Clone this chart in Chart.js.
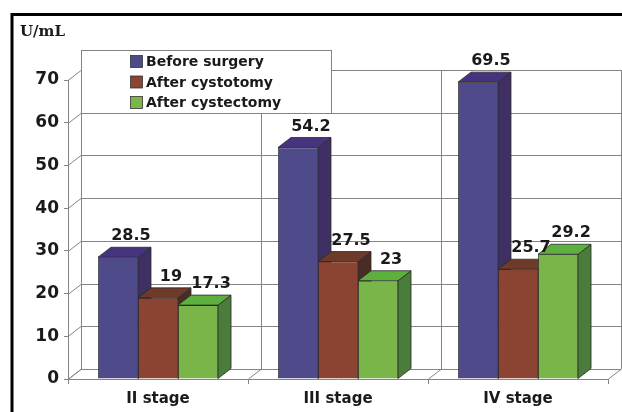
<!DOCTYPE html>
<html>
<head>
<meta charset="utf-8">
<script src="https://cdn.jsdelivr.net/npm/chart.js@4.4.0/dist/chart.umd.min.js"></script>
<style>
  html, body { margin: 0; padding: 0; background: #fff; }
</style>
</head>
<body>
<canvas id="stage" width="622" height="412"></canvas>
<script>
// data
const stages = ['II stage', 'III stage', 'IV stage'];
const beforeSurgery = [28.5, 54.2, 69.5];
const afterCystotomy = [19, 27.5, 25.7];
const afterCystectomy = [17.3, 23, 29.2];
const seriesNames = ['Before surgery', 'After cystotomy', 'After cystectomy'];
const yMin = 0, yMax = 70, yStep = 10;
const unitLabel = 'U/mL';

// 3d depth of the box
const DX = 13, DY = -10;
const faces = [
  { front: '#4f4a8a', side: '#3e3062', top: '#46347e' },
  { front: '#8b4431', side: '#4a2c24', top: '#6e3a2a' },
  { front: '#79b548', side: '#4c7c3c', top: '#5daf3e' }
];
const gridColor = '#848484';
const textColor = '#1a1a1a';

function line(ctx, x1, y1, x2, y2) {
  ctx.beginPath();
  ctx.moveTo(x1, y1);
  ctx.lineTo(x2, y2);
  ctx.stroke();
}

function poly(ctx, pts, fill) {
  ctx.beginPath();
  ctx.moveTo(pts[0][0], pts[0][1]);
  for (let i = 1; i < pts.length; i++) ctx.lineTo(pts[i][0], pts[i][1]);
  ctx.closePath();
  ctx.fillStyle = fill;
  ctx.fill();
  ctx.stroke();
}

const box3d = {
  id: 'box3d',
  beforeDraw(chart) {
    const ctx = chart.ctx;
    ctx.save();
    // outer frame
    ctx.strokeStyle = '#000';
    ctx.lineWidth = 3;
    ctx.beginPath();
    ctx.moveTo(12, 412);
    ctx.lineTo(12, 14.5);
    ctx.lineTo(622, 14.5);
    ctx.stroke();
    // unit
    ctx.fillStyle = textColor;
    ctx.font = 'bold 15px "DejaVu Serif"';
    ctx.textBaseline = 'middle';
    ctx.textAlign = 'left';
    ctx.fillText(unitLabel, 20, 32);
    ctx.restore();
  },
  beforeDatasetsDraw(chart) {
    const ctx = chart.ctx;
    const { left, right } = chart.chartArea;
    const ys = chart.scales.y, xs = chart.scales.x;
    const y0 = ys.getPixelForValue(yMin), yTop = ys.getPixelForValue(yMax);
    const cw = (right - left) / stages.length;
    ctx.save();
    ctx.strokeStyle = gridColor;
    ctx.lineWidth = 1;
    // side wall diagonals + back wall gridlines
    for (let v = yMin; v <= yMax; v += yStep) {
      const py = Math.round(ys.getPixelForValue(v)) + 0.5;
      line(ctx, left, py, left + DX, py + DY);
      line(ctx, left + DX, py + DY, right + DX, py + DY);
    }
    // back wall verticals + floor diagonals
    for (let i = 0; i <= stages.length; i++) {
      const bx = Math.round(xs.getPixelForValue(0) - cw / 2 + i * cw) + 0.5;
      line(ctx, bx + DX, y0 + DY, bx + DX, yTop + DY);
      line(ctx, bx, y0, bx + DX, y0 + DY);
    }
    // sides and tops of bars, left to right
    const bars = [];
    chart.data.datasets.forEach((ds, di) => {
      chart.getDatasetMeta(di).data.forEach(el => bars.push({ el, di }));
    });
    bars.sort((a, b) => a.el.x - b.el.x);
    ctx.strokeStyle = '#2a2a2a';
    ctx.lineWidth = 0.8;
    bars.forEach(({ el, di }) => {
      const w = el.width, l = el.x - w / 2, r = el.x + w / 2, t = el.y, b = el.base;
      poly(ctx, [[r, t], [r + DX, t + DY], [r + DX, b + DY], [r, b]], faces[di].side);
      poly(ctx, [[l, t], [l + DX, t + DY], [r + DX, t + DY], [r, t]], faces[di].top);
    });
    ctx.restore();
  },
  afterDatasetsDraw(chart) {
    const ctx = chart.ctx;
    ctx.save();
    // value labels
    ctx.fillStyle = textColor;
    ctx.font = 'bold 16px "DejaVu Sans"';
    ctx.textAlign = 'center';
    ctx.textBaseline = 'middle';
    chart.data.datasets.forEach((ds, di) => {
      chart.getDatasetMeta(di).data.forEach((el, i) => {
        ctx.fillText(String(ds.data[i]), el.x + 13, el.y - 21);
      });
    });
    // legend box
    ctx.fillStyle = '#fff';
    ctx.strokeStyle = gridColor;
    ctx.lineWidth = 1;
    ctx.fillRect(81.5, 50.5, 250, 63);
    ctx.strokeRect(81.5, 50.5, 250, 63);
    ctx.font = 'bold 14px "DejaVu Sans"';
    ctx.textAlign = 'left';
    chart.data.datasets.forEach((ds, di) => {
      const cy = 61.5 + di * 20.5;
      ctx.fillStyle = ds.backgroundColor;
      ctx.strokeStyle = '#333';
      ctx.lineWidth = 0.8;
      ctx.fillRect(130.5, cy - 6, 12, 12);
      ctx.strokeRect(130.5, cy - 6, 12, 12);
      ctx.fillStyle = textColor;
      ctx.fillText(ds.label, 146, cy + 1);
    });
    ctx.restore();
  }
};

const mydata = {
  labels: stages,
  datasets: [beforeSurgery, afterCystotomy, afterCystectomy].map((d, i) => ({
    label: seriesNames[i],
    data: d,
    backgroundColor: faces[i].front,
    borderColor: '#2a2a2a',
    borderWidth: 0.8,
    categoryPercentage: 0.667,
    barPercentage: 1
  }))
};

new Chart(document.getElementById('stage'), {
  type: 'bar',
  data: mydata,
  options: {
    responsive: false,
    animation: false,
    devicePixelRatio: 1,
    layout: { padding: { top: 80, right: 14, left: 0, bottom: 0 } },
    scales: {
      x: {
        grid: { drawOnChartArea: false, offset: true, tickLength: 5, color: gridColor },
        border: { color: gridColor },
        ticks: { font: { family: 'DejaVu Sans', weight: 'bold', size: 15 }, color: textColor, padding: 6 },
        afterFit: s => { s.height = 33; }
      },
      y: {
        min: yMin,
        max: yMax,
        grid: { drawOnChartArea: false, tickLength: 4, color: gridColor },
        border: { color: gridColor },
        ticks: { stepSize: yStep, font: { family: 'DejaVu Sans', weight: 'bold', size: 17 }, color: textColor, padding: 5 },
        afterFit: s => { s.width = 68; }
      }
    },
    plugins: { legend: { display: false }, tooltip: { enabled: false } }
  },
  plugins: [box3d]
});
</script>
</body>
</html>
